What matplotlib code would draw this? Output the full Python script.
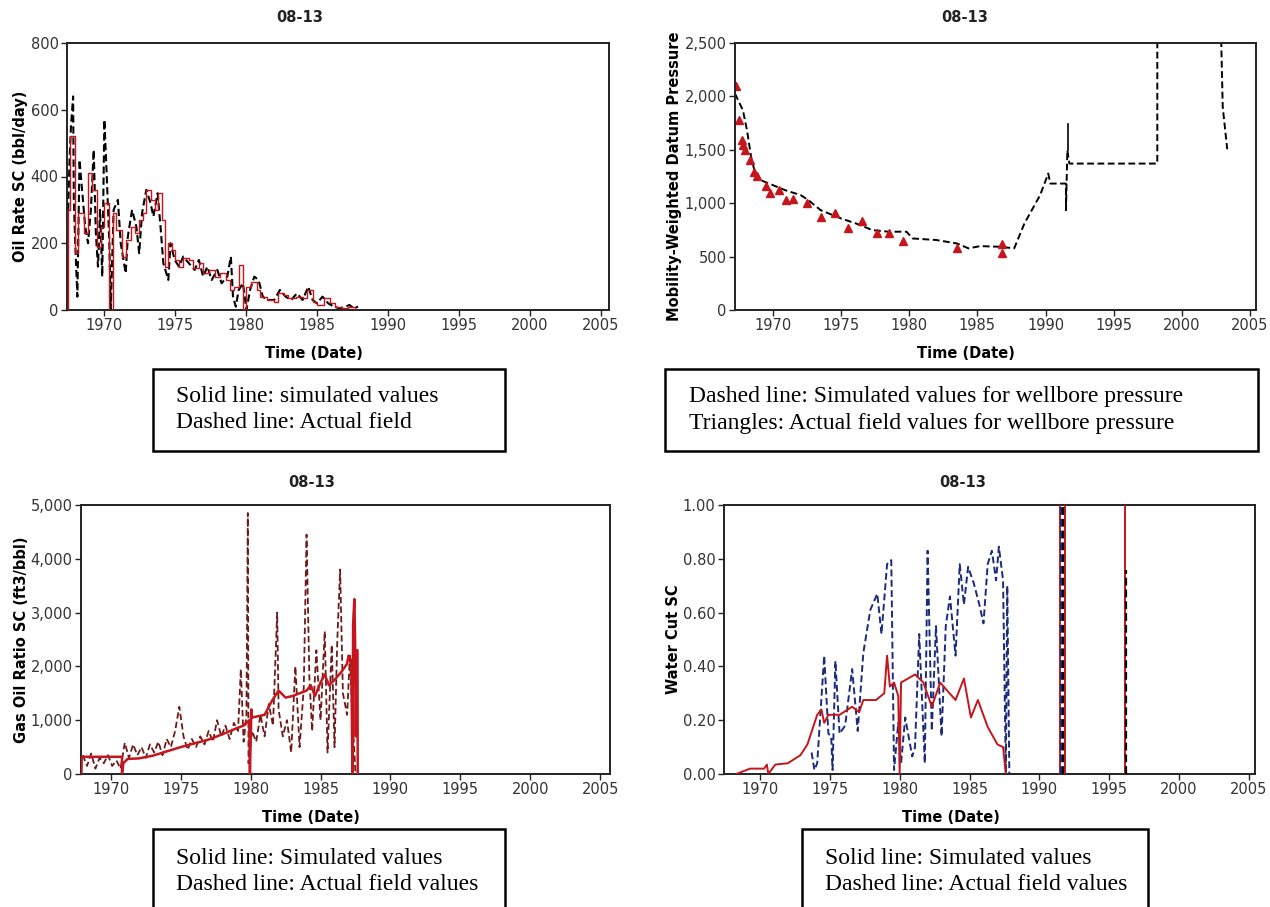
import matplotlib.pyplot as plt
import matplotlib.ticker as mtick
from matplotlib.patches import Rectangle

# ---- Oil rate (bbl/day) ----
oil_sim_t = [1967.45, 1967.5, 1967.65, 1968.0, 1968.2, 1968.6, 1968.9, 1969.2, 1969.5, 1969.8,
             1970.0, 1970.4, 1970.65, 1970.9, 1971.3, 1971.6, 1971.9, 1972.2, 1972.5, 1972.8,
             1973.0, 1973.3, 1973.6, 1973.8, 1974.1, 1974.3, 1974.5, 1974.8, 1975.0, 1975.3,
             1975.6, 1976.0, 1976.3, 1976.7, 1977.0, 1977.4, 1977.8, 1978.2, 1978.6, 1978.9,
             1979.2, 1979.5, 1979.8, 1980.0, 1980.4, 1980.8, 1981.0, 1981.5, 1982.0, 1982.3,
             1982.7, 1983.0, 1983.5, 1984.0, 1984.3, 1984.7, 1985.0, 1985.5, 1985.9, 1986.3,
             1986.8, 1987.2, 1987.7]
oil_sim_v = [0, 300, 520, 170, 290, 230, 410, 360, 190, 250,
             320, 0, 290, 240, 160, 210, 250, 230, 270, 290,
             360, 330, 300, 350, 270, 130, 200, 180, 150, 130,
             155, 150, 125, 140, 110, 120, 100, 110, 90, 60,
             70, 135, 0, 70, 85, 60, 40, 30, 25, 50,
             45, 35, 40, 35, 60, 25, 15, 35, 20, 10,
             5, 10, 0]
oil_obs_t = [1967.5, 1967.6, 1967.7, 1967.85, 1967.9, 1968.0, 1968.15, 1968.3, 1968.5, 1968.7,
             1968.9, 1969.1, 1969.3, 1969.45, 1969.6, 1969.75, 1969.9, 1970.05, 1970.2, 1970.4,
             1970.5, 1970.7, 1971.0, 1971.2, 1971.55, 1971.7, 1972.0, 1972.3, 1972.5, 1972.7,
             1973.0, 1973.3, 1973.5, 1973.8, 1974.0, 1974.2, 1974.55, 1974.7, 1975.0, 1975.3,
             1975.6, 1976.0, 1976.4, 1976.7, 1977.0, 1977.3, 1977.6, 1978.0, 1978.3, 1978.7,
             1978.95, 1979.1, 1979.3, 1979.5, 1979.8, 1980.05, 1980.3, 1980.6, 1980.9, 1981.2,
             1981.5, 1982.0, 1982.4, 1982.8, 1983.2, 1983.6, 1984.0, 1984.4, 1984.7, 1985.0,
             1985.4, 1985.8, 1986.2, 1986.6, 1987.0, 1987.3, 1987.6, 1987.9]
oil_obs_v = [300, 450, 550, 640, 330, 200, 40, 450, 350, 250,
             200, 300, 480, 230, 130, 300, 100, 570, 420, 200,
             0, 300, 330, 200, 110, 220, 300, 250, 170, 290,
             360, 320, 280, 350, 250, 140, 90, 200, 150, 130,
             160, 140, 120, 150, 100, 130, 90, 120, 80, 100,
             160, 40, 10, 60, 80, 0, 60, 100, 90, 40,
             30, 30, 60, 40, 30, 50, 30, 70, 30, 20,
             40, 20, 10, 5, 10, 15, 5, 10]

# ---- Mobility-weighted datum pressure ----
pres_sim_t = [1967.22, 1967.8, 1968.1, 1968.4, 1968.7, 1969.1, 1970.0, 1970.9, 1972.05, 1972.6,
              1973.5, 1975.0, 1976.1, 1977.3, 1978.5, 1979.8, 1980.25, 1982.0, 1983.5, 1984.35,
              1985.2, 1986.7, 1987.7, 1988.45, 1989.6, 1990.2, 1990.35, 1991.5, 1991.5, 1991.6,
              1991.75, 1998.2, 1998.2, 2002.8, 2003.0, 2003.33]
pres_sim_v = [2026, 1870, 1683, 1434, 1278, 1216, 1169, 1122, 1075, 1029,
              935, 857, 810, 748, 733, 733, 670, 655, 623, 577,
              598, 592, 577, 810, 1075, 1278, 1184, 1184, 935, 1496,
              1371, 1371, 3000, 3000, 1900, 1505]
pres_spike_t = [1991.68, 1991.68]
pres_spike_v = [1500, 1740]
pres_obs_t = [1967.28, 1967.5, 1967.72, 1967.83, 1967.95, 1968.3, 1968.6, 1968.83, 1969.47, 1969.77,
              1970.44, 1970.97, 1971.47, 1972.5, 1973.5, 1974.54, 1975.48, 1976.53, 1977.62, 1978.5,
              1979.58, 1983.48, 1986.8, 1986.82]
pres_obs_v = [2095, 1783, 1590, 1543, 1502, 1403, 1294, 1256, 1160, 1091,
              1128, 1029, 1044, 998, 867, 904, 764, 832, 717, 717,
              648, 577, 530, 614]

# ---- Gas oil ratio (ft3/bbl) ----
gor_sim_t = [1967.9, 1967.92, 1969.0, 1970.8, 1970.8, 1970.9, 1971.2, 1972.0, 1973.0, 1974.0,
             1975.0, 1976.0, 1977.0, 1978.0, 1979.0, 1979.5, 1979.9, 1979.95, 1980.05, 1980.1,
             1981.0, 1981.5, 1982.0, 1982.5, 1983.0, 1983.5, 1984.0, 1984.3, 1984.6, 1985.0,
             1985.3, 1985.6, 1986.0, 1986.5, 1986.9, 1987.0, 1987.2, 1987.28, 1987.33, 1987.42,
             1987.47, 1987.52, 1987.58, 1987.64, 1987.66]
gor_sim_v = [0, 320, 320, 320, 0, 200, 280, 290, 340, 420,
             500, 570, 640, 740, 850, 900, 1000, 0, 1200, 1050,
             1100, 1350, 1550, 1420, 1450, 1500, 1550, 1650, 1450, 1700,
             1850, 1650, 1750, 1900, 2050, 2200, 2100, 0, 2800, 3250,
             2500, 700, 2300, 2300, 0]
gor_obs_t = [1968.0, 1968.3, 1968.6, 1968.9, 1969.2, 1969.5, 1969.8, 1970.1, 1970.4, 1970.7,
             1971.0, 1971.3, 1971.6, 1971.9, 1972.2, 1972.5, 1972.8, 1973.1, 1973.4, 1973.7,
             1974.0, 1974.3, 1974.6, 1974.9, 1975.2, 1975.5, 1975.8, 1976.1, 1976.4, 1976.7,
             1977.0, 1977.3, 1977.6, 1977.9, 1978.2, 1978.5, 1978.8, 1979.1, 1979.3, 1979.5,
             1979.7, 1979.8, 1979.85, 1980.1, 1980.4, 1980.7, 1981.0, 1981.3, 1981.6, 1981.9,
             1982.0, 1982.3, 1982.6, 1982.9, 1983.2, 1983.5, 1983.8, 1984.0, 1984.2, 1984.4,
             1984.7, 1985.0, 1985.3, 1985.5, 1985.8, 1986.0, 1986.2, 1986.4, 1986.6, 1986.9,
             1987.1, 1987.3, 1987.5]
gor_obs_v = [350, 150, 380, 100, 300, 200, 350, 150, 250, 100,
             580, 300, 550, 350, 500, 300, 550, 400, 600, 350,
             650, 500, 800, 1250, 700, 450, 650, 500, 700, 550,
             800, 600, 1000, 700, 900, 650, 950, 800, 1950, 600,
             1100, 4850, 200, 800, 600, 1100, 700, 1300, 900, 3000,
             1200, 700, 1000, 400, 2000, 500, 1600, 4450, 1800, 800,
             2300, 1000, 2650, 400, 2400, 500, 2500, 3800, 1500, 1100,
             2200, 1000, 0]

# ---- Water cut ----
wc_sim_t = [1968.3, 1969.3, 1970.3, 1970.5, 1970.6, 1971.1, 1972.0, 1972.9, 1973.4, 1974.1,
            1974.4, 1974.6, 1974.9, 1975.7, 1976.6, 1977.1, 1977.4, 1978.3, 1978.9, 1979.1,
            1979.3, 1979.6, 1979.9, 1980.0, 1980.1, 1981.1, 1981.7, 1982.3, 1982.9, 1983.4,
            1984.0, 1984.6, 1985.1, 1985.6, 1986.3, 1987.0, 1987.4, 1987.6]
wc_sim_v = [0.0, 0.02, 0.02, 0.035, 0.0, 0.035, 0.04, 0.07, 0.11, 0.22,
            0.24, 0.19, 0.22, 0.22, 0.25, 0.23, 0.275, 0.275, 0.30, 0.44,
            0.325, 0.34, 0.29, 0.0, 0.34, 0.37, 0.34, 0.25, 0.34, 0.31,
            0.275, 0.355, 0.21, 0.275, 0.175, 0.11, 0.10, 0.0]
wc_obs_t = [1973.7, 1973.9, 1974.1, 1974.6, 1974.9, 1975.1, 1975.2, 1975.4, 1975.7, 1976.1,
            1976.6, 1977.0, 1977.4, 1977.9, 1978.4, 1978.7, 1979.1, 1979.4, 1979.6, 1979.9,
            1980.1, 1980.4, 1980.9, 1981.1, 1981.4, 1981.8, 1982.0, 1982.3, 1982.6, 1983.0,
            1983.3, 1983.6, 1984.0, 1984.3, 1984.6, 1984.9, 1985.3, 1985.7, 1986.0, 1986.3,
            1986.6, 1986.9, 1987.1, 1987.4, 1987.6, 1987.7, 1987.85]
wc_obs_v = [0.08, 0.015, 0.04, 0.44, 0.15, 0.14, 0.015, 0.42, 0.15, 0.18,
            0.39, 0.16, 0.45, 0.61, 0.67, 0.52, 0.78, 0.795, 0.015, 0.19,
            0.04, 0.21, 0.065, 0.10, 0.52, 0.04, 0.83, 0.16, 0.55, 0.14,
            0.55, 0.66, 0.44, 0.78, 0.63, 0.77, 0.71, 0.63, 0.56, 0.78,
            0.83, 0.72, 0.845, 0.72, 0.0, 0.70, 0.0]
wc_sim_spike_t = [1991.45, 1991.8, 1996.1]
wc_sim_spike_v = [1.0, 1.0, 1.0]
wc_obs_spike_t = [1991.55, 1991.7, 1996.17]
wc_obs_spike_v = [1.0, 1.0, 0.76]
wc_obs_spike_c = ['#1c2a7a', 'black', 'black']

years = [1970, 1975, 1980, 1985, 1990, 1995, 2000, 2005]

RED = '#c4161c'
DASH = (0, (3.5, 1.8))
W, H = 1270, 907


def fig_rect(l, t, r, b):
    return [l / W, 1 - b / H, (r - l) / W, (b - t) / H]


def style(ax, xlim, ylim, yticks, yfmt, ylabel, ylab_x, xlab_x):
    ax.set_xlim(xlim)
    ax.set_ylim(ylim)
    ax.set_xticks(years)
    ax.set_yticks(yticks)
    ax.yaxis.set_major_formatter(mtick.StrMethodFormatter(yfmt))
    ax.tick_params(direction='out', length=4, width=1, labelsize=10.5, colors='#222',
                   labelcolor='#333', pad=2)
    for s in ax.spines.values():
        s.set_linewidth(1.4)
        s.set_color('#222')
    ax.set_ylabel(ylabel, fontsize=10.5, fontweight='bold')
    ax.yaxis.set_label_coords(ylab_x, 0.5)
    ax.set_xlabel('Time (Date)', fontsize=10.5, fontweight='bold')
    ax.xaxis.set_label_coords(xlab_x, -0.135)


def note_box(fig, l, t, r, b, lines, tx, ty):
    fig.patches.append(Rectangle((l / W, 1 - b / H), (r - l) / W, (b - t) / H,
                                 transform=fig.transFigure, fill=False,
                                 edgecolor='black', linewidth=1.8))
    for i, s in enumerate(lines):
        fig.text(tx / W, 1 - (ty + 27 * i) / H, s, family='Liberation Serif',
                 fontsize=17, va='center', ha='left')


fig = plt.figure(figsize=(12.7, 9.07), dpi=100)

# top left: oil rate
ax1 = fig.add_axes(fig_rect(67, 43, 609, 310))
ax1.step(oil_sim_t, oil_sim_v, where='post', color=RED, lw=1.0, zorder=3)
ax1.plot(oil_obs_t, oil_obs_v, color='black', lw=1.5, ls=DASH, zorder=2)
style(ax1, (1967.42, 2005.56), (0, 800), [0, 200, 400, 600, 800], '{x:,.0f}',
      'Oil Rate SC (bbl/day)', -0.072, 0.456)

# top right: pressure
ax2 = fig.add_axes(fig_rect(735, 43, 1256, 310))
ax2.plot(pres_sim_t, pres_sim_v, color='black', lw=1.4, ls=DASH)
ax2.plot(pres_spike_t, pres_spike_v, color='black', lw=1.2)
ax2.plot(pres_obs_t, pres_obs_v, ls='none', marker='^', ms=6, color=RED, mec=RED)
style(ax2, (1967.22, 2005.44), (0, 2500), [0, 500, 1000, 1500, 2000, 2500], '{x:,.0f}',
      'Mobility-Weighted Datum Pressure', -0.102, 0.443)

# bottom left: GOR
ax3 = fig.add_axes(fig_rect(81, 505, 610, 774))
ax3.plot(gor_obs_t, gor_obs_v, color='#6e1b1b', lw=1.3, ls=DASH, zorder=2)
ax3.plot(gor_sim_t, gor_sim_v, color=RED, lw=1.8, zorder=3)
style(ax3, (1967.87, 2005.7), (0, 5000), [0, 1000, 2000, 3000, 4000, 5000], '{x:,.0f}',
      'Gas Oil Ratio SC (ft3/bbl)', -0.098, 0.435)

# bottom right: water cut
ax4 = fig.add_axes(fig_rect(724, 505, 1255, 774))
ax4.plot(wc_obs_t, wc_obs_v, color='#1c2a7a', lw=1.4, ls=DASH, zorder=2)
ax4.plot(wc_sim_t, wc_sim_v, color=RED, lw=1.4, zorder=3)
ax4.vlines(wc_sim_spike_t, 0, wc_sim_spike_v, color=RED, lw=1.4, zorder=3)
ax4.vlines(wc_obs_spike_t, 0, wc_obs_spike_v, colors=wc_obs_spike_c, lw=1.6,
           linestyles=[DASH] * 3, zorder=4)
style(ax4, (1967.43, 2005.43), (0, 1.0), [0, 0.2, 0.4, 0.6, 0.8, 1.0], '{x:.2f}',
      'Water Cut SC', -0.081, 0.427)

for x, y in [(300, 17), (965, 17), (312, 483), (963, 483)]:
    fig.text(x / W, 1 - y / H, '08-13', fontsize=10.5, fontweight='bold',
             ha='center', va='center', color='#222')

note_box(fig, 153, 369, 505, 451, ['Solid line: simulated values', 'Dashed line: Actual field'], 176, 396)
note_box(fig, 665, 369, 1258, 451, ['Dashed line: Simulated values for wellbore pressure',
                                    'Triangles: Actual field values for wellbore pressure'], 689, 396)
note_box(fig, 153, 829, 505, 930, ['Solid line: Simulated values', 'Dashed line: Actual field values'], 176, 858)
note_box(fig, 802, 829, 1148, 930, ['Solid line: Simulated values', 'Dashed line: Actual field values'], 825, 858)

fig.savefig('out.png', dpi=100)
